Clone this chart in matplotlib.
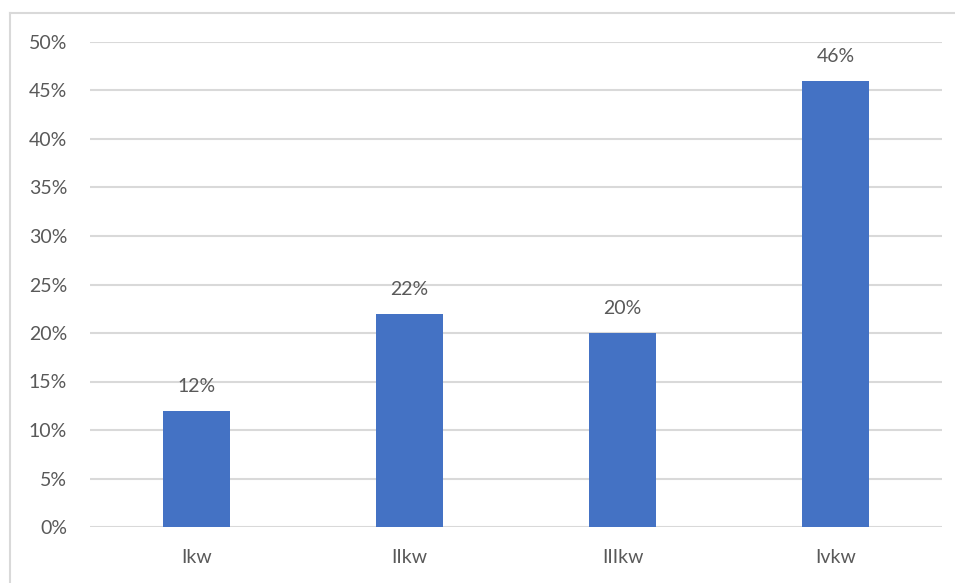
import matplotlib.pyplot as plt
from matplotlib.lines import Line2D

categories = ['Ikw', 'IIkw', 'IIIkw', 'Ivkw']
shares = [12, 22, 20, 46]          # percent
yticks = [0, 5, 10, 15, 20, 25, 30, 35, 40, 45, 50]

plt.rcParams['font.family'] = ['Lato', 'DejaVu Sans']
grey = '#595959'
fs = 14

fig = plt.figure(figsize=(9.55, 5.83), dpi=100)
ax = fig.add_axes([90 / 955, 56 / 583, 852 / 955, 485 / 583])

x = range(len(categories))
bars = ax.bar(x, shares, width=0.31, color='#4472C4', zorder=3)

for b, v in zip(bars, shares):
    ax.annotate(f'{v}%', (b.get_x() + b.get_width() / 2, v),
                xytext=(0, 17.5), textcoords='offset points',
                ha='center', va='center', fontsize=fs, color=grey)

ax.set_xlim(-0.5, len(categories) - 0.5)
ax.set_ylim(0, 50)
ax.set_yticks(yticks)
ax.set_yticklabels([f'{t}%' for t in yticks])
ax.set_xticks(list(x))
ax.set_xticklabels(categories)
ax.tick_params(axis='both', length=0, labelsize=fs, labelcolor=grey)
ax.tick_params(axis='y', pad=16.5)
ax.tick_params(axis='x', pad=16)

ax.grid(axis='y', color='#D9D9D9', linewidth=1.5, zorder=0)
for s in ax.spines.values():
    s.set_visible(False)

# chart area border (left and top edges visible)
fig.add_artist(Line2D([10 / 955, 10 / 955], [0, 1 - 13 / 583],
                      transform=fig.transFigure, color='#D9D9D9', linewidth=1.5))
fig.add_artist(Line2D([10 / 955, 1], [1 - 13 / 583, 1 - 13 / 583],
                      transform=fig.transFigure, color='#D9D9D9', linewidth=1.5))

fig.savefig('out.png', dpi=100)
